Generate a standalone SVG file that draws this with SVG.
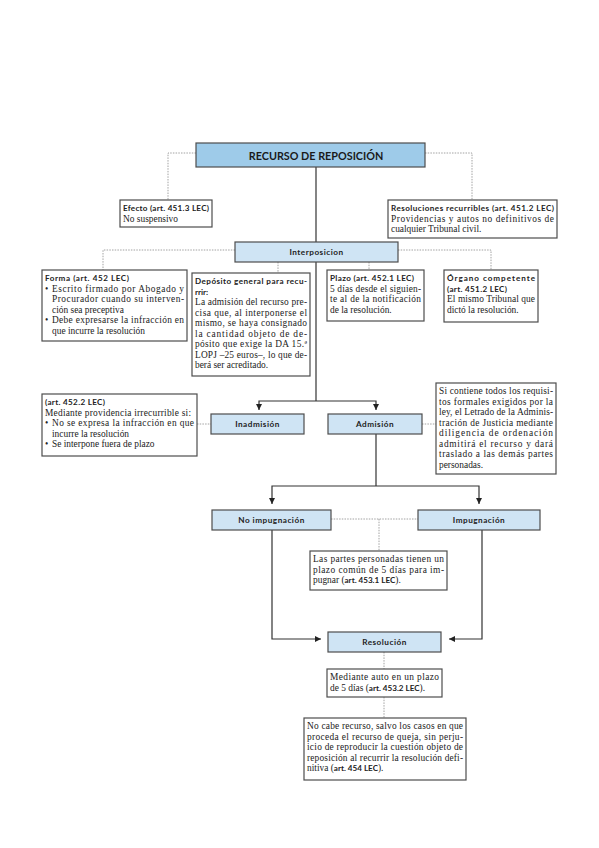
<svg xmlns="http://www.w3.org/2000/svg" width="599" height="848" viewBox="0 0 599 848">
<defs>
<style>
.tb{fill:#fff;stroke:#4d4d4d;stroke-width:1.2}
.lb{fill:#cfe4f4;stroke:#4d4d4d;stroke-width:1.2}
.tt{fill:#9ecbe9;stroke:#4d4d4d;stroke-width:1.2}
.s{font-family:"Liberation Serif",serif;font-size:9.4px;fill:#222}
.h{font-family:Lato,"Liberation Sans",sans-serif;font-size:8.1px;font-weight:700;fill:#222}
.b{font-family:Lato,"Liberation Sans",sans-serif;font-size:8.1px;font-weight:700}
.lt{font-family:Lato,"Liberation Sans",sans-serif;font-size:8.2px;font-weight:700;fill:#222;text-anchor:middle;letter-spacing:0.5px}
.ti{font-family:Lato,"Liberation Sans",sans-serif;font-size:10.8px;font-weight:700;fill:#1a1a1a;text-anchor:middle}
.c{fill:none;stroke:#333;stroke-width:1.2}
.d{fill:none;stroke:#8c8c8c;stroke-width:0.8;stroke-dasharray:1.5 1.2}
</style>
<marker id="ah" markerWidth="6" markerHeight="6" refX="6" refY="3" orient="auto" markerUnits="userSpaceOnUse"><path d="M0,0 L6,3 L0,6 z" fill="#222"/></marker>
</defs>
<rect width="599" height="848" fill="#fff"/>

<g id="connectors">
<path class="c" d="M316 167 V242"/>
<path class="c" d="M316 262 V401"/>
<path class="c" d="M316 401 H259 V410" marker-end="url(#ah)"/>
<path class="c" d="M316 401 H376 V410" marker-end="url(#ah)"/>
<path class="c" d="M376 434 V486"/>
<path class="c" d="M376 486 H272 V504" marker-end="url(#ah)"/>
<path class="c" d="M376 486 H479 V504" marker-end="url(#ah)"/>
<path class="c" d="M272 530 V639 H321" marker-end="url(#ah)"/>
<path class="c" d="M482 530 V639 H449" marker-end="url(#ah)"/>
<path class="d" d="M196 153 H168 V200"/>
<path class="d" d="M425 153 H472 V200"/>
<path class="d" d="M235 250 H103 V270"/>
<path class="d" d="M278 262 V273"/>
<path class="d" d="M369 262 V270"/>
<path class="d" d="M398 250 H491 V270"/>
<path class="d" d="M197 424 H211"/>
<path class="d" d="M422 424 H436"/>
<path class="d" d="M331 519 H418"/>
<path class="d" d="M379 519 V551"/>
<path class="d" d="M384 652 V669"/>
<path class="d" d="M384 697 V718"/>
</g>

<g id="titulo">
<rect class="tt" x="196" y="143" width="229" height="24"/>
<text class="ti" x="316" y="160">RECURSO DE REPOSICIÓN</text>
</g>

<g id="efecto">
<rect class="tb" x="120" y="200" width="92" height="27"/>
<text class="h" x="123" y="211" textLength="86" lengthAdjust="spacing">Efecto (art. 451.3 LEC)</text>
<text class="s" x="123" y="221.5">No suspensivo</text>
</g>

<g id="resoluciones">
<rect class="tb" x="388" y="200" width="169" height="38"/>
<text class="h" x="391" y="211" textLength="163" lengthAdjust="spacing">Resoluciones recurribles (art. 451.2 LEC)</text>
<text class="s" x="391" y="221.5" textLength="163" lengthAdjust="spacing">Providencias y autos no definitivos de</text>
<text class="s" x="391" y="232">cualquier Tribunal civil.</text>
</g>

<g id="interposicion">
<rect class="lb" x="235" y="242" width="163" height="20"/>
<text class="lt" x="316.5" y="255">Interposicion</text>
</g>

<g id="forma">
<rect class="tb" x="42" y="270" width="145" height="71"/>
<text class="h" x="45" y="281" textLength="84" lengthAdjust="spacing">Forma (art. 452 LEC)</text>
<text class="s" x="45" y="291.5">•</text>
<text class="s" x="52" y="291.5" textLength="132" lengthAdjust="spacing">Escrito firmado por Abogado y</text>
<text class="s" x="52" y="302" textLength="132" lengthAdjust="spacing">Procurador cuando su interven-</text>
<text class="s" x="52" y="312.5">ción sea preceptiva</text>
<text class="s" x="45" y="323">•</text>
<text class="s" x="52" y="323" textLength="132" lengthAdjust="spacing">Debe expresarse la infracción en</text>
<text class="s" x="52" y="333.5">que incurre la resolución</text>
</g>

<g id="deposito">
<rect class="tb" x="192" y="273" width="118" height="103"/>
<text class="h" x="195" y="284" textLength="112" lengthAdjust="spacing">Depósito general para recu-</text>
<text class="h" x="195" y="294.5">rrir:</text>
<text class="s" x="195" y="305" textLength="112" lengthAdjust="spacing">La admisión del recurso pre-</text>
<text class="s" x="195" y="315.5" textLength="112" lengthAdjust="spacing">cisa que, al interponerse el</text>
<text class="s" x="195" y="326" textLength="112" lengthAdjust="spacing">mismo, se haya consignado</text>
<text class="s" x="195" y="336.5" textLength="112" lengthAdjust="spacing">la cantidad objeto de de-</text>
<text class="s" x="195" y="347" textLength="112" lengthAdjust="spacing">pósito que exige la DA 15.ª</text>
<text class="s" x="195" y="357.5" textLength="112" lengthAdjust="spacing">LOPJ –25 euros–, lo que de-</text>
<text class="s" x="195" y="368">berá ser acreditado.</text>
</g>

<g id="plazo">
<rect class="tb" x="327" y="270" width="97" height="51"/>
<text class="h" x="330" y="281" textLength="84" lengthAdjust="spacing">Plazo (art. 452.1 LEC)</text>
<text class="s" x="330" y="291.5" textLength="91" lengthAdjust="spacing">5 días desde el siguien-</text>
<text class="s" x="330" y="302" textLength="91" lengthAdjust="spacing">te al de la notificación</text>
<text class="s" x="330" y="312.5">de la resolución.</text>
</g>

<g id="organo">
<rect class="tb" x="444" y="270" width="94" height="52"/>
<text class="h" x="447" y="281" textLength="88" lengthAdjust="spacing">Órgano competente</text>
<text class="h" x="447" y="291.5" textLength="60" lengthAdjust="spacing">(art. 451.2 LEC)</text>
<text class="s" x="447" y="302" textLength="88" lengthAdjust="spacing">El mismo Tribunal que</text>
<text class="s" x="447" y="312.5">dictó la resolución.</text>
</g>

<g id="inadmision-nota">
<rect class="tb" x="42" y="394" width="155" height="62"/>
<text class="h" x="45" y="405" textLength="60" lengthAdjust="spacing">(art. 452.2 LEC)</text>
<text class="s" x="45" y="415.5" textLength="146" lengthAdjust="spacing">Mediante providencia irrecurrible si:</text>
<text class="s" x="45" y="426">•</text>
<text class="s" x="52" y="426" textLength="142" lengthAdjust="spacing">No se expresa la infracción en que</text>
<text class="s" x="52" y="436.5">incurre la resolución</text>
<text class="s" x="45" y="447">•</text>
<text class="s" x="52" y="447">Se interpone fuera de plazo</text>
</g>

<g id="inadmision">
<rect class="lb" x="211" y="414" width="93" height="20"/>
<text class="lt" x="257.5" y="427">Inadmisión</text>
</g>

<g id="admision">
<rect class="lb" x="328" y="414" width="94" height="20"/>
<text class="lt" x="375" y="427">Admisión</text>
</g>

<g id="admision-nota">
<rect class="tb" x="436" y="383" width="120" height="91"/>
<text class="s" x="439" y="394" textLength="114" lengthAdjust="spacing">Si contiene todos los requisi-</text>
<text class="s" x="439" y="404.5" textLength="114" lengthAdjust="spacing">tos formales exigidos por la</text>
<text class="s" x="439" y="415" textLength="114" lengthAdjust="spacing">ley, el Letrado de la Adminis-</text>
<text class="s" x="439" y="425.5" textLength="114" lengthAdjust="spacing">tración de Justicia mediante</text>
<text class="s" x="439" y="436" textLength="114" lengthAdjust="spacing">diligencia de ordenación</text>
<text class="s" x="439" y="446.5" textLength="114" lengthAdjust="spacing">admitirá el recurso y dará</text>
<text class="s" x="439" y="457" textLength="114" lengthAdjust="spacing">traslado a las demás partes</text>
<text class="s" x="439" y="467.5">personadas.</text>
</g>

<g id="no-impugnacion">
<rect class="lb" x="212" y="510" width="119" height="20"/>
<text class="lt" x="271.5" y="523">No impugnación</text>
</g>

<g id="impugnacion">
<rect class="lb" x="418" y="510" width="122" height="20"/>
<text class="lt" x="479" y="523">Impugnación</text>
</g>

<g id="plazo-impugnar">
<rect class="tb" x="310" y="551" width="137" height="39"/>
<text class="s" x="313" y="562" textLength="131" lengthAdjust="spacing">Las partes personadas tienen un</text>
<text class="s" x="313" y="572.5" textLength="131" lengthAdjust="spacing">plazo común de 5 días para im-</text>
<text class="s" x="313" y="583">pugnar (<tspan class="b">art. 453.1 LEC</tspan>).</text>
</g>

<g id="resolucion">
<rect class="lb" x="328" y="632" width="113" height="20"/>
<text class="lt" x="384.5" y="645">Resolución</text>
</g>

<g id="auto">
<rect class="tb" x="327" y="669" width="115" height="28"/>
<text class="s" x="330" y="680" textLength="109" lengthAdjust="spacing">Mediante auto en un plazo</text>
<text class="s" x="330" y="690.5">de 5 días (<tspan class="b">art. 453.2 LEC</tspan>).</text>
</g>

<g id="recurso-queja">
<rect class="tb" x="304" y="718" width="162" height="62"/>
<text class="s" x="307" y="729" textLength="156" lengthAdjust="spacing">No cabe recurso, salvo los casos en que</text>
<text class="s" x="307" y="739.5" textLength="156" lengthAdjust="spacing">proceda el recurso de queja, sin perju-</text>
<text class="s" x="307" y="750" textLength="156" lengthAdjust="spacing">icio de reproducir la cuestión objeto de</text>
<text class="s" x="307" y="760.5" textLength="156" lengthAdjust="spacing">reposición al recurrir la resolución defi-</text>
<text class="s" x="307" y="771">nitiva (<tspan class="b">art. 454 LEC</tspan>).</text>
</g>
</svg>
